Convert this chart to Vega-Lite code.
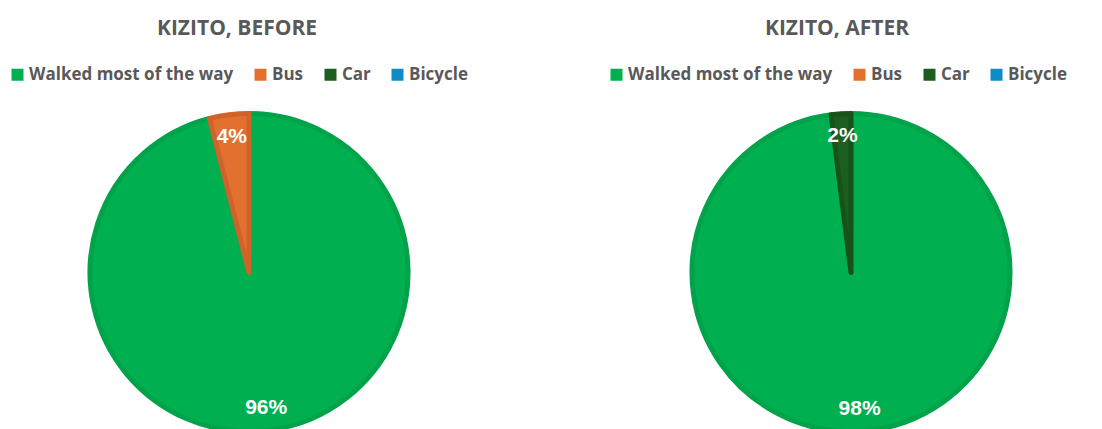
{
  "$schema": "https://vega.github.io/schema/vega-lite/v6.json",
  "padding": {"left": 4, "top": 18, "right": 0, "bottom": 0},
  "background": "white",
  "datasets": {
    "before": [
      {"mode": "Walked most of the way", "pct": 96},
      {"mode": "Bus", "pct": 4},
      {"mode": "Car", "pct": 0},
      {"mode": "Bicycle", "pct": 0}
    ],
    "after": [
      {"mode": "Walked most of the way", "pct": 98},
      {"mode": "Bus", "pct": 0},
      {"mode": "Car", "pct": 2},
      {"mode": "Bicycle", "pct": 0}
    ]
  },
  "config": {
    "view": {"stroke": null},
    "concat": {"spacing": 112},
    "title": {"font": "Open Sans", "fontSize": 21, "fontWeight": "bold", "color": "#595959", "anchor": "middle", "frame": "group", "offset": 27},
    "legend": {
      "orient": "none",
      "direction": "horizontal",
      "labelFont": "Open Sans",
      "labelFontSize": 17,
      "labelFontWeight": "bold",
      "labelColor": "#595959",
      "symbolType": "square",
      "symbolSize": 144,
      "symbolStrokeWidth": 0,
      "columnPadding": 18,
      "labelOffset": 3,
      "labelLimit": 400,
      "title": null
    }
  },
  "resolve": {"legend": {"color": "independent"}, "scale": {"color": "independent"}},
  "hconcat": [
    {
      "width": 490,
      "height": 317,
      "title": {"text": "KIZITO, BEFORE", "dx": -12},
      "data": {"name": "before"},
      "encoding": {
        "theta": {"field": "pct", "type": "quantitative", "stack": true},
        "order": {"field": "pct", "type": "quantitative", "sort": "descending"}
      },
      "layer": [
        {
          "transform": [{"filter": "datum.pct > 0"}],
          "mark": {"type": "arc", "outerRadius": 159, "strokeWidth": 5, "strokeJoin": "round"},
          "encoding": {
            "color": {
              "field": "mode", "type": "nominal", "sort": null,
              "scale": {"domain": ["Walked most of the way", "Bus", "Car", "Bicycle"], "range": ["#00B050", "#E4702F", "#1B5E20", "#0F8CC6"]},
              "legend": {"legendX": 5, "legendY": -48, "values": ["Walked most of the way", "Bus", "Car", "Bicycle"]}
            },
            "stroke": {
              "field": "mode", "type": "nominal",
              "scale": {"domain": ["Walked most of the way", "Bus", "Car", "Bicycle"], "range": ["#00A34A", "#D0632A", "#175219", "#0C7DB0"]},
              "legend": null
            }
          }
        },
        {
          "transform": [{"filter": "datum.pct > 0"}, {"calculate": "datum.pct + '%'", "as": "label"}],
          "mark": {"type": "text", "radius": 137, "font": "Liberation Sans", "fontSize": 21, "fontWeight": "bold", "color": "white"},
          "encoding": {"text": {"field": "label", "type": "nominal"}}
        }
      ]
    },
    {
      "width": 490,
      "height": 317,
      "title": {"text": "KIZITO, AFTER", "dx": -14},
      "data": {"name": "after"},
      "encoding": {
        "theta": {"field": "pct", "type": "quantitative", "stack": true},
        "order": {"field": "pct", "type": "quantitative", "sort": "descending"}
      },
      "layer": [
        {
          "transform": [{"filter": "datum.pct > 0"}],
          "mark": {"type": "arc", "outerRadius": 159, "strokeWidth": 5, "strokeJoin": "round"},
          "encoding": {
            "color": {
              "field": "mode", "type": "nominal", "sort": null,
              "scale": {"domain": ["Walked most of the way", "Bus", "Car", "Bicycle"], "range": ["#00B050", "#E4702F", "#1B5E20", "#0F8CC6"]},
              "legend": {"legendX": 2, "legendY": -48, "values": ["Walked most of the way", "Bus", "Car", "Bicycle"]}
            },
            "stroke": {
              "field": "mode", "type": "nominal",
              "scale": {"domain": ["Walked most of the way", "Bus", "Car", "Bicycle"], "range": ["#00A34A", "#D0632A", "#175219", "#0C7DB0"]},
              "legend": null
            }
          }
        },
        {
          "transform": [{"filter": "datum.pct > 0"}, {"calculate": "datum.pct + '%'", "as": "label"}],
          "mark": {"type": "text", "radius": 137, "font": "Liberation Sans", "fontSize": 21, "fontWeight": "bold", "color": "white"},
          "encoding": {"text": {"field": "label", "type": "nominal"}}
        }
      ]
    }
  ]
}
